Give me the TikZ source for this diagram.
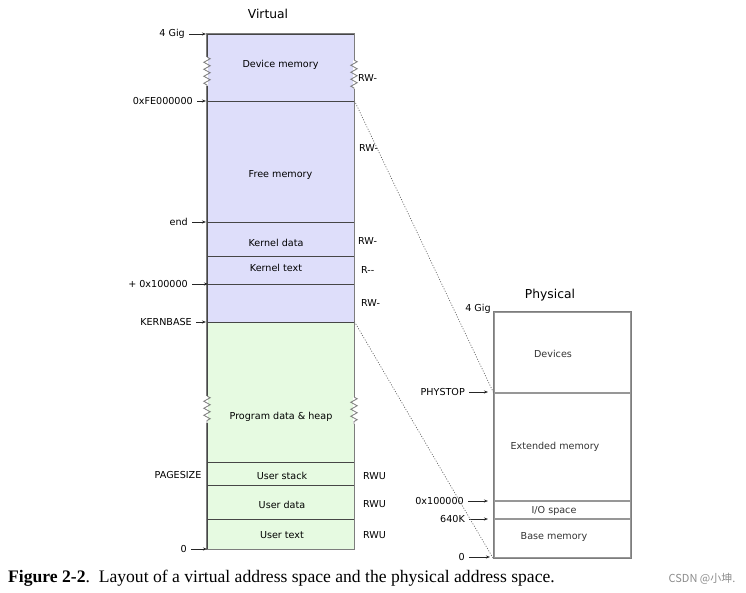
\documentclass[tikz,border=0pt]{standalone}
\usepackage{fontspec}
\setmainfont{Liberation Serif}
\setsansfont{DejaVu Sans}
\newfontfamily\cjkfont{Noto Sans CJK SC}
\usetikzlibrary{positioning, arrows.meta, decorations.pathmorphing}
\definecolor{virtblue}{RGB}{222,222,250}
\definecolor{usergreen}{RGB}{230,250,225}
\definecolor{edgegray}{RGB}{125,125,125}
\definecolor{linegray}{RGB}{70,70,70}

\begin{document}
\begin{tikzpicture}[
    x=1pt, y=-1pt,
    font=\sffamily\fontsize{9.6}{11}\selectfont,
    >={Stealth[length=4pt,width=3pt]},
    vreg/.style={rectangle, draw=linegray, line width=0.8pt, minimum width=147pt, inner sep=0pt},
    preg/.style={rectangle, draw=edgegray!80, line width=1.3pt, minimum width=137pt, inner sep=0pt},
    outer/.style={draw=edgegray, line width=1.5pt},
    addr/.style={inner sep=1pt},
    perm/.style={inner sep=1pt, anchor=west},
    tick/.style={->, line width=0.7pt, draw=black!85, shorten <=3pt},
    title/.style={font=\sffamily\fontsize{12.3}{14}\selectfont},
    cut/.style={decorate, decoration={zigzag, amplitude=3.2pt, segment length=7pt}, draw=edgegray, line width=0.8pt},
    map/.style={draw=black!60, line width=0.7pt, dash pattern=on 1pt off 1.6pt}
  ]
  \useasboundingbox (0,0) rectangle (746,592);

  % Virtual address space
  \node[title] (virt) at (268,14) {Virtual};
  \node[vreg, fill=virtblue, minimum height=67pt] (devmem) at (280.5,67.5) {};
  \node[vreg, fill=virtblue, minimum height=121pt] (freemem) at (280.5,161.5) {};
  \node[vreg, fill=virtblue, minimum height=34pt] (kdata) at (280.5,239) {};
  \node[vreg, fill=virtblue, minimum height=28pt] (ktext) at (280.5,270) {};
  \node[vreg, fill=virtblue, minimum height=38pt] (kbelow) at (280.5,303) {};
  \node[vreg, fill=usergreen, minimum height=140pt] (heap) at (280.5,392) {};
  \node[vreg, fill=usergreen, minimum height=23pt] (ustack) at (280.5,473.5) {};
  \node[vreg, fill=usergreen, minimum height=34pt] (udata) at (280.5,502) {};
  \node[vreg, fill=usergreen, minimum height=30pt] (utext) at (280.5,534) {};
  \draw[outer] (devmem.north west) rectangle (utext.south east);

  \node (devmemtxt) at (280.5,65) {Device memory};
  \node (freememtxt) at (280.5,175) {Free memory};
  \node (kdatatxt) at (276,243) {Kernel data};
  \node (ktexttxt) at (276,268) {Kernel text};
  \node (heaptxt) at (281,417) {Program data \& heap};
  \node (ustacktxt) at (282,476) {User stack};
  \node (udatatxt) at (282,505) {User data};
  \node (utexttxt) at (282,535) {User text};

  % break marks
  \draw[white, line width=2.5pt] (207,57) -- (207,86) (354,60) -- (354,89)
    (207,396) -- (207,423) (354,397) -- (354,424);
  \draw[cut] (207,57) -- (207,86);
  \draw[cut] (354,60) -- (354,89);
  \draw[cut] (207,396) -- (207,423);
  \draw[cut] (354,397) -- (354,424);

  % permissions
  \node[perm] (p1) at (357,78) {RW-};
  \node[perm] (p2) at (358,148) {RW-};
  \node[perm] (p3) at (357,241) {RW-};
  \node[perm] (p4) at (360,270) {R-{}-};
  \node[perm] (p5) at (360,303) {RW-};
  \node[perm] (p6) at (362,476) {RWU};
  \node[perm] (p7) at (362,504) {RWU};
  \node[perm] (p8) at (362,535) {RWU};

  % virtual addresses
  \coordinate (v4g) at (206,34);
  \coordinate (vfe) at (206,101);
  \coordinate (vend) at (206,222);
  \coordinate (vkern) at (208,284);
  \coordinate (vbase) at (206,322);
  \coordinate (vzero) at (207,549);
  \node[addr, left=20pt of v4g] (vgig) {4 Gig};
  \node[addr, left=12pt of vfe] (vfelbl) {0xFE000000};
  \node[addr, left=17pt of vend] (vendlbl) {end};
  \node[addr, left=19pt of vkern] (vkernlbl) {+ 0x100000};
  \node[addr, left=13pt of vbase] (vbaselbl) {KERNBASE};
  \node[addr] (vpage) at (178,475) {PAGESIZE};
  \node[addr, left=19pt of vzero] (vzerolbl) {0};
  \draw[tick] (vgig) -- (v4g);
  \draw[tick] (vfelbl) -- (vfe);
  \draw[tick] (vendlbl) -- (vend);
  \draw[tick] (vkernlbl) -- (vkern);
  \draw[tick] (vbaselbl) -- (vbase);
  \draw[tick] (vzerolbl) -- (vzero);

  % Physical address space
  \node[title] (phys) at (550,295) {Physical};
  \node[preg, minimum height=81pt] (devices) at (562.5,352.5) {};
  \node[preg, minimum height=108pt] (extmem) at (562.5,447) {};
  \node[preg, minimum height=18pt] (iospace) at (562.5,510) {};
  \node[preg, minimum height=39pt] (basemem) at (562.5,538.5) {};
  \draw[outer] (devices.north west) rectangle (basemem.south east);

  \node[text=black!80] (devicestxt) at (553,354) {Devices};
  \node[text=black!80] (extmemtxt) at (555,447) {Extended memory};
  \node[text=black!80] (iospacetxt) at (554,511) {I/O space};
  \node[text=black!80] (basememtxt) at (554,537) {Base memory};

  % physical addresses
  \node[addr] (pgig) at (478,309) {4 Gig};
  \coordinate (pstop) at (488,392);
  \coordinate (pext) at (488,501);
  \coordinate (p640) at (488,519);
  \coordinate (pzero) at (490,557);
  \node[addr, left=22pt of pstop] (pstoplbl) {PHYSTOP};
  \node[addr, left=23pt of pext] (pextlbl) {0x100000};
  \node[addr, left=22pt of p640] (p640lbl) {640K};
  \node[addr, left=24pt of pzero] (pzerolbl) {0};
  \draw[tick] (pstoplbl) -- (pstop);
  \draw[tick] (pextlbl) -- (pext);
  \draw[tick] (p640lbl) -- (p640);
  \draw[tick] (pzerolbl) -- (pzero);

  % Mappings
  \draw[map] (freemem.north east) -- (extmem.north west);
  \draw[map] (heap.north east) -- (basemem.south west);

  % Caption
  \node[anchor=west, inner sep=0pt, font=\rmfamily\fontsize{17.6}{20}\selectfont] (caption) at (8,578)
    {\textbf{Figure 2-2}.\ \ Layout of a virtual address space and the physical address space.};
  \node[font=\cjkfont\fontsize{11}{13}\selectfont, text=black!45] (mark) at (702,579) {CSDN @小坤.};

\end{tikzpicture}
\end{document}
